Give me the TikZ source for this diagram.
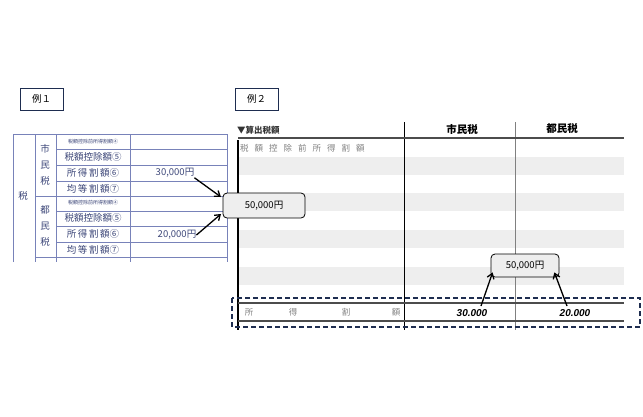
\documentclass[tikz,border=0pt]{standalone}
\usepackage{fontspec}
\setmainfont{Noto Sans CJK JP}
\newfontfamily\lat{Liberation Sans}
\usetikzlibrary{arrows.meta}
\definecolor{tb}{RGB}{120,130,185}
\definecolor{tt}{RGB}{60,70,120}
\definecolor{stripe}{RGB}{238,238,238}
\definecolor{navy}{RGB}{30,45,80}
\tikzset{
 lbl/.style={draw=navy,line width=0.8pt,minimum width=43pt,minimum height=22pt,inner sep=0pt,font=\fontsize{9.5}{9}\selectfont},
 call/.style={draw,rounded corners=4pt,fill=stripe,line width=0.8pt,inner sep=0pt,font=\fontsize{9.5}{9}\selectfont},
 arr/.style={-{Straight Barb[length=5pt,width=7pt]},line width=1.3pt},
 lt/.style={font=\fontsize{9.5}{9}\selectfont,text=tt,inner sep=0pt},
 gl/.style={inner sep=0pt,font=\fontsize{8.5}{9}\selectfont,text=gray},
}
\begin{document}
\begin{tikzpicture}[x=1pt,y=-1pt]
\useasboundingbox (0,0) rectangle (643,416);
\node[lbl] (ex1) at (41.5,99) {例１};
\node[lbl] (ex2) at (256.5,99) {例２};
% left table
\draw[tb,line width=0.6pt] (13,262)--(13,134)--(227,134)--(227,262);
\foreach \y in {149,165,181,196,211,226,242,257}{\draw[tb,line width=0.5pt] (56,\y)--(227,\y);}
\draw[tb,line width=0.5pt] (35,196)--(56,196);
\draw[tb,line width=0.5pt] (35,257)--(56,257);
\draw[tb,line width=0.5pt] (35,134)--(35,262) (56,134)--(56,262) (130,134)--(130,262);
\node[lt] (zei) at (23,196) {税};
\node[lt,align=center,font=\fontsize{9.5}{16}\selectfont] (shi) at (45,165) {市\\民\\税};
\node[lt,align=center,font=\fontsize{9.5}{16}\selectfont] (to) at (45,226) {都\\民\\税};
\foreach \y/\s in {0/0,61/1}{
 \node[lt,font=\fontsize{5}{5}\selectfont] (a\s) at (93,141.5+\y) {税額控除前所得割額④};
 \node[lt] (b\s) at (93,157+\y) {税額控除額⑤};
 \node[lt] (c\s) at (93,173+\y) {所\,得\,割\,額⑥};
 \node[lt] (d\s) at (93,188.5+\y) {均\,等\,割\,額⑦};
}
\node[lt,font=\fontsize{9.5}{9}\selectfont] (v1) at (175,173) {30,000円};
\node[lt,font=\fontsize{9.5}{9}\selectfont] (v2) at (177,235) {20,000円};
% right table
\foreach \y in {157,193,230,267}{\fill[stripe] (238,\y) rectangle (624,\y+18);}
\draw[line width=1.2pt] (238,140)--(238,330);
\draw[line width=1pt] (404,122)--(404,330);
\draw[gray,line width=1pt] (515,122)--(515,330);
\draw[black!70,line width=1.5pt] (238,138)--(624,138);
\draw[black!70,line width=1.5pt] (238,303)--(624,303);
\draw[black!70,line width=1.5pt] (238,321)--(624,321);
\node[inner sep=0pt,font=\bfseries\fontsize{8.5}{9}\selectfont,text=black!80,anchor=west] (h0) at (237,130) {▼算出税額};
\node[inner sep=0pt,font=\bfseries\fontsize{10.5}{9}\selectfont] (h1) at (462,129) {市民税};
\node[inner sep=0pt,font=\bfseries\fontsize{10.5}{9}\selectfont] (h2) at (562,129) {都民税};
\node[gl,anchor=west] (r1) at (240,148) {税\hspace{6pt}額\hspace{6pt}控\hspace{6pt}除\hspace{6pt}前\hspace{6pt}所\hspace{6pt}得\hspace{6pt}割\hspace{6pt}額};
\node[gl] (s1) at (249,312) {所};
\node[gl] (s2) at (293,312) {得};
\node[gl] (s3) at (346,312) {割};
\node[gl] (s4) at (396,312) {額};
\node[inner sep=0pt,font=\lat\bfseries\itshape\fontsize{10}{9}\selectfont] (n1) at (472,313) {30.000};
\node[inner sep=0pt,font=\lat\bfseries\itshape\fontsize{10}{9}\selectfont] (n2) at (575,313) {20.000};
\draw[navy,dash pattern=on 5pt off 3pt,line width=1.1pt] (232,298) rectangle (640,327);
\node[call,minimum width=82pt,minimum height=25pt] (c1) at (264,205.5) {50,000円};
\node[call,minimum width=68pt,minimum height=23pt] (c2) at (525,265.5) {50,000円};
\coordinate (e1) at (221,197);
\coordinate (e2) at (221,214);
\draw[arr] (v1.south east) -- (e1);
\draw[arr] (v2.east) -- (e2);
\coordinate (f1) at (481,306);
\coordinate (f2) at (567,306);
\draw[arr] (f1) -- ([xshift=2pt,yshift=5pt]c2.south west);
\draw[arr] (f2) -- ([xshift=-5pt,yshift=5pt]c2.south east);
\end{tikzpicture}
\end{document}
